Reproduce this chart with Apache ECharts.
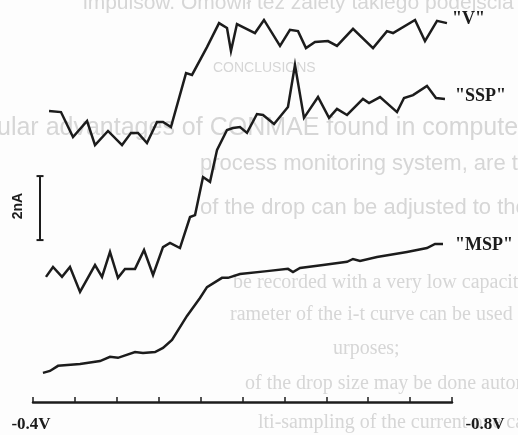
<!DOCTYPE html>
<html>
<head>
<meta charset="utf-8">
<script src="https://cdn.jsdelivr.net/npm/echarts@6/dist/echarts.min.js"></script>
<style>
html,body{margin:0;padding:0;background:#fdfdfd;}
#c{width:518px;height:435px;}
</style>
</head>
<body>
<div id="c"></div>
<script>
// Potential axis (V) and currents (nA, curves are vertically offset as in the figure)
const vX = [-0.4153,-0.4267,-0.4382,-0.4516,-0.4592,-0.4716,-0.4850,-0.4936,-0.5002,-0.5088,-0.5184,-0.5241,-0.5317,-0.5461,-0.5518,-0.5661,-0.5776,-0.5852,-0.5890,-0.5947,-0.6119,-0.6205,-0.6358,-0.6453,-0.6530,-0.6606,-0.6692,-0.6816,-0.6902,-0.7055,-0.7246,-0.7379,-0.7437,-0.7647,-0.7742,-0.7857,-0.7952];
const vY = [9.09,9.06,8.28,8.78,8.03,8.47,8.03,8.41,8.41,8.09,8.75,8.75,8.59,10.28,10.22,11.09,11.84,11.69,10.97,11.81,11.53,11.94,11.13,11.63,11.59,11.06,11.25,11.28,11.13,11.66,11.06,11.59,11.53,11.94,11.28,11.91,11.84];

const sspX = [-0.4124,-0.4191,-0.4277,-0.4353,-0.4449,-0.4592,-0.4659,-0.4735,-0.4811,-0.4878,-0.4974,-0.5060,-0.5146,-0.5241,-0.5308,-0.5403,-0.5499,-0.5547,-0.5623,-0.5690,-0.5757,-0.5852,-0.5909,-0.5976,-0.6043,-0.6138,-0.6196,-0.6301,-0.6434,-0.6501,-0.6587,-0.6721,-0.6826,-0.6902,-0.6998,-0.7150,-0.7208,-0.7313,-0.7475,-0.7542,-0.7628,-0.7761,-0.7847,-0.7933];
const sspY = [3.91,4.22,3.91,4.22,3.44,4.28,3.91,4.69,3.88,4.16,4.16,4.75,3.97,4.84,4.97,4.81,5.78,5.84,7.03,6.88,7.88,8.50,8.56,8.59,8.41,9.00,8.97,8.69,9.22,10.53,8.88,9.53,8.88,9.16,8.97,9.47,9.34,9.53,9.06,9.50,9.59,9.88,9.50,9.47];

const mspX = [-0.4095,-0.4162,-0.4239,-0.4449,-0.4640,-0.4735,-0.4811,-0.4974,-0.5050,-0.5165,-0.5241,-0.5327,-0.5470,-0.5594,-0.5661,-0.5804,-0.5862,-0.5976,-0.6234,-0.6434,-0.6482,-0.6549,-0.6769,-0.6998,-0.7055,-0.7122,-0.7284,-0.7341,-0.7570,-0.7761,-0.7838,-0.7914];
const mspY = [0.91,0.97,1.13,1.19,1.28,1.41,1.38,1.56,1.53,1.56,1.69,1.94,2.69,3.25,3.59,3.88,3.88,4.00,4.09,4.16,4.06,4.19,4.28,4.38,4.47,4.41,4.53,4.56,4.69,4.81,4.94,4.94];

const seriesNames = ['"V"', '"SSP"', '"MSP"'];
const tickLabels = [{value: -0.4, text: '-0.4V'}, {value: -0.8, text: '-0.8V'}];
const scaleBarX = [-0.4067, -0.4067];
const scaleBarY = [5.06, 7.06];
const scaleBarLabel = '2nA';

const bgLines = [
  'impulsów. Omówił też zalety takiego podejścia',
  'CONCLUSIONS',
  'ular advantages of CONMAE found in computer',
  'process monitoring system, are the following:',
  'of the drop can be adjusted to the particular',
  'be recorded with a very low capacity compo',
  'rameter of the i-t curve can be used as an',
  'urposes;',
  'of the drop size may be done automatically;',
  'lti-sampling of the current one can increase'
];

function pairs(xs, ys){ return xs.map((x,i)=>[x, ys[i]]); }

const INK = '#1c1c1c';
const BG = '#d6d6d6';
const lbl = {fontFamily:'Liberation Serif', fontWeight:'bold', fontSize:17, color:INK};

const bgLayout = [
  {x:83, y:3, s:21, f:'Liberation Sans'},
  {x:213, y:68, s:14, f:'Liberation Sans'},
  {x:-3, y:128, s:25, f:'Liberation Sans'},
  {x:200, y:164, s:22, f:'Liberation Sans'},
  {x:200, y:208, s:22, f:'Liberation Sans'},
  {x:233, y:283, s:20, f:'Liberation Serif'},
  {x:230, y:315, s:20, f:'Liberation Serif'},
  {x:333, y:349, s:20, f:'Liberation Serif'},
  {x:245, y:384, s:20, f:'Liberation Serif'},
  {x:258, y:423, s:20, f:'Liberation Serif'}
];

const chart = echarts.init(document.getElementById('c'), null, {renderer:'canvas'});
const curve = (name, data, dist, off) => ({
  type:'line', name, data, showSymbol:false, symbol:'none', clip:false, z:3,
  lineStyle:{color:INK, width:2.5, join:'miter'},
  markPoint:{
    symbol:'circle', symbolSize:0, silent:true, animation:false,
    data:[{coord:data[data.length-1], value:name}],
    label:{show:true, position:'right', distance:dist, offset:off, formatter:name, ...lbl, fontSize:18}
  }
});

chart.setOption({
  backgroundColor:'#fdfdfd',
  animation:false,
  grid:{left:33, right:66, top:2, bottom:33},
  xAxis:{
    type:'value', inverse:true, min:-0.8, max:-0.4, interval:0.04,
    splitLine:{show:false},
    axisLine:{lineStyle:{color:INK, width:2.5}},
    axisTick:{inside:true, length:5, lineStyle:{color:INK, width:1.5}},
    axisLabel:{
      margin:14, hideOverlap:false,
      formatter:function(v){
        for (const t of tickLabels){
          if (Math.abs(v - t.value) < 1e-6) return t.value === -0.8 ? '{r|' + t.text + '}' : '{l|' + t.text + '}';
        }
        return '';
      },
      rich:{
        l:{...lbl, padding:[0,4,0,0]},
        r:{...lbl, padding:[0,0,0,66]}
      }
    }
  },
  yAxis:{type:'value', min:0, max:12.5, show:false, splitLine:{show:false}},
  series:[
    curve(seriesNames[0], pairs(vX, vY), 5, [0,-4]),
    curve(seriesNames[1], pairs(sspX, sspY), 10, [0,-3]),
    curve(seriesNames[2], pairs(mspX, mspY), 12, [0,1]),
    {type:'line', data:pairs(scaleBarX, scaleBarY), symbol:'rect', symbolSize:[7,2], showSymbol:true, z:3,
     lineStyle:{color:INK, width:2}, itemStyle:{color:INK}}
  ],
  graphic: bgLines.map((t,i)=>({
    type:'text', z:-10, silent:true, x:bgLayout[i].x, y:bgLayout[i].y,
    style:{text:t, fill:BG, font: (bgLayout[i].s) + 'px "' + bgLayout[i].f + '"', verticalAlign:'middle', align:'left'}
  })).concat([{
    type:'text', z:5, x:18, y:206, rotation:Math.PI/2,
    style:{text:scaleBarLabel, fill:INK, font:'bold 14px "Liberation Sans"', align:'center', verticalAlign:'middle'}
  }])
});
</script>
</body>
</html>
